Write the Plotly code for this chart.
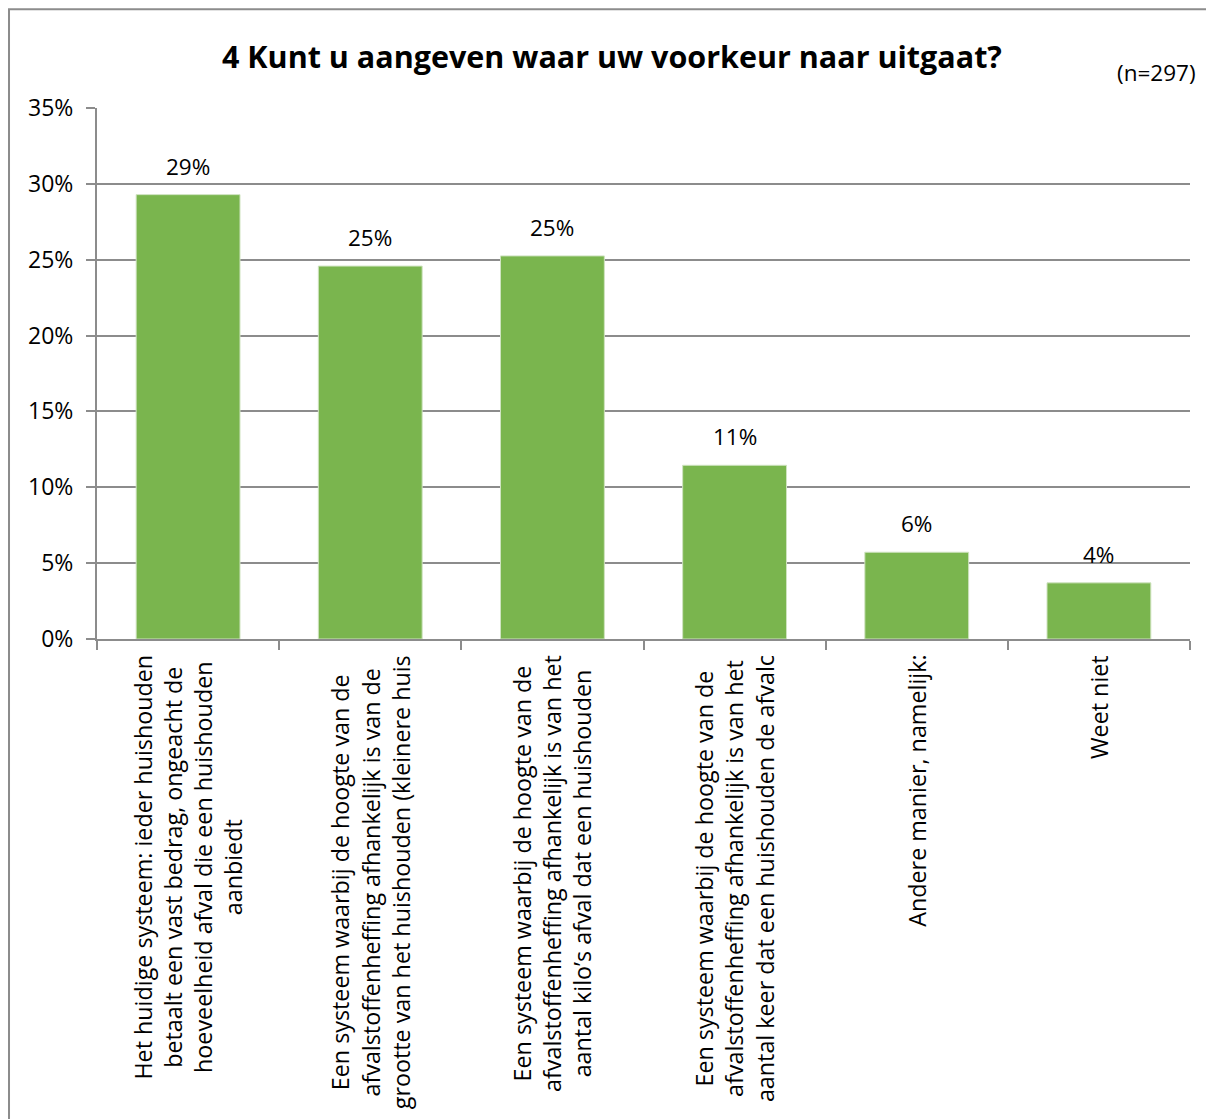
"""
Bar chart: 4 Kunt u aangeven waar uw voorkeur naar uitgaat? (n=297)
"""
import plotly.graph_objects as go

# Data
categories = ["A", "B", "C", "D", "E", "F"]
category_labels = [
    "Het huidige systeem: ieder huishouden<br>betaalt een vast bedrag, ongeacht de<br>hoeveelheid afval die een huishouden<br>aanbiedt",
    "Een systeem waarbij de hoogte van de<br>afvalstoffenheffing afhankelijk is van de<br>grootte van het huishouden (kleinere huis",
    "Een systeem waarbij de hoogte van de<br>afvalstoffenheffing afhankelijk is van het<br>aantal kilo’s afval dat een huishouden",
    "Een systeem waarbij de hoogte van de<br>afvalstoffenheffing afhankelijk is van het<br>aantal keer dat een huishouden de afvalc",
    "Andere manier, namelijk:",
    "Weet niet",
]
values = [0.2929, 0.2458, 0.2525, 0.1145, 0.0572, 0.0370]
value_labels = ["29%", "25%", "25%", "11%", "6%", "4%"]

title_text = "4 Kunt u aangeven waar uw voorkeur naar uitgaat?"
n_text = "(n=297)"

FONT = "Open Sans"
GRID = "#8c8c8c"
BAR = "#7ab54e"

fig = go.Figure(go.Bar(
    x=categories,
    y=values,
    marker=dict(color=BAR, line=dict(color="#cfe3c0", width=1)),
    width=0.57,
    hoverinfo="skip",
))

# data labels above the bars
for cat, val, lab in zip(categories, values, value_labels):
    fig.add_annotation(
        x=cat, y=val, text=lab, showarrow=False,
        yanchor="bottom", yshift=11,
        font=dict(family=FONT, size=22.5, color="#000000"),
    )

# rotated category labels below the axis
for cat, lab in zip(categories, category_labels):
    fig.add_annotation(
        x=cat, y=0, yref="y", text=lab, showarrow=False,
        textangle=-90, align="center",
        xanchor="center", yanchor="top", yshift=-14,
        font=dict(family=FONT, size=23.3, color="#000000"),
    )

fig.add_annotation(
    x=1.007, y=1.066, xref="paper", yref="paper",
    text=n_text, showarrow=False, xanchor="right", yanchor="middle",
    font=dict(family=FONT, size=22.5, color="#000000"),
)

# outer chart border
fig.add_shape(
    type="rect", xref="paper", yref="paper",
    x0=-0.0805, x1=1.3, y0=-1.5, y1=1.186,
    line=dict(color="#8c8c8c", width=2), layer="below",
)

# the page body adds an 8px offset, so margins are reduced by that
fig.update_layout(
    width=1214,
    height=1119,
    margin=dict(l=89, r=32, t=100, b=488),
    paper_bgcolor="white",
    plot_bgcolor="white",
    showlegend=False,
    title=dict(
        text="<b>" + title_text + "</b>",
        x=0.4975, xref="container", xanchor="center",
        y=0.956, yref="container", yanchor="middle",
        font=dict(family=FONT, size=30.5, color="#000000"),
    ),
    xaxis=dict(
        showticklabels=False,
        tickson="boundaries",
        ticks="outside", ticklen=9, tickcolor=GRID, tickwidth=2,
        showline=True, linecolor=GRID, linewidth=2,
        showgrid=False,
    ),
    yaxis=dict(
        range=[0, 0.35],
        dtick=0.05,
        tickformat=".0%",
        ticks="outside", ticklen=9, tickcolor=GRID, tickwidth=2,
        ticklabelstandoff=8,
        showline=True, linecolor=GRID, linewidth=2,
        showgrid=True, gridcolor=GRID, gridwidth=2,
        zeroline=False,
        tickfont=dict(family=FONT, size=23, color="#000000"),
    ),
)

fig.write_html("out.html")
